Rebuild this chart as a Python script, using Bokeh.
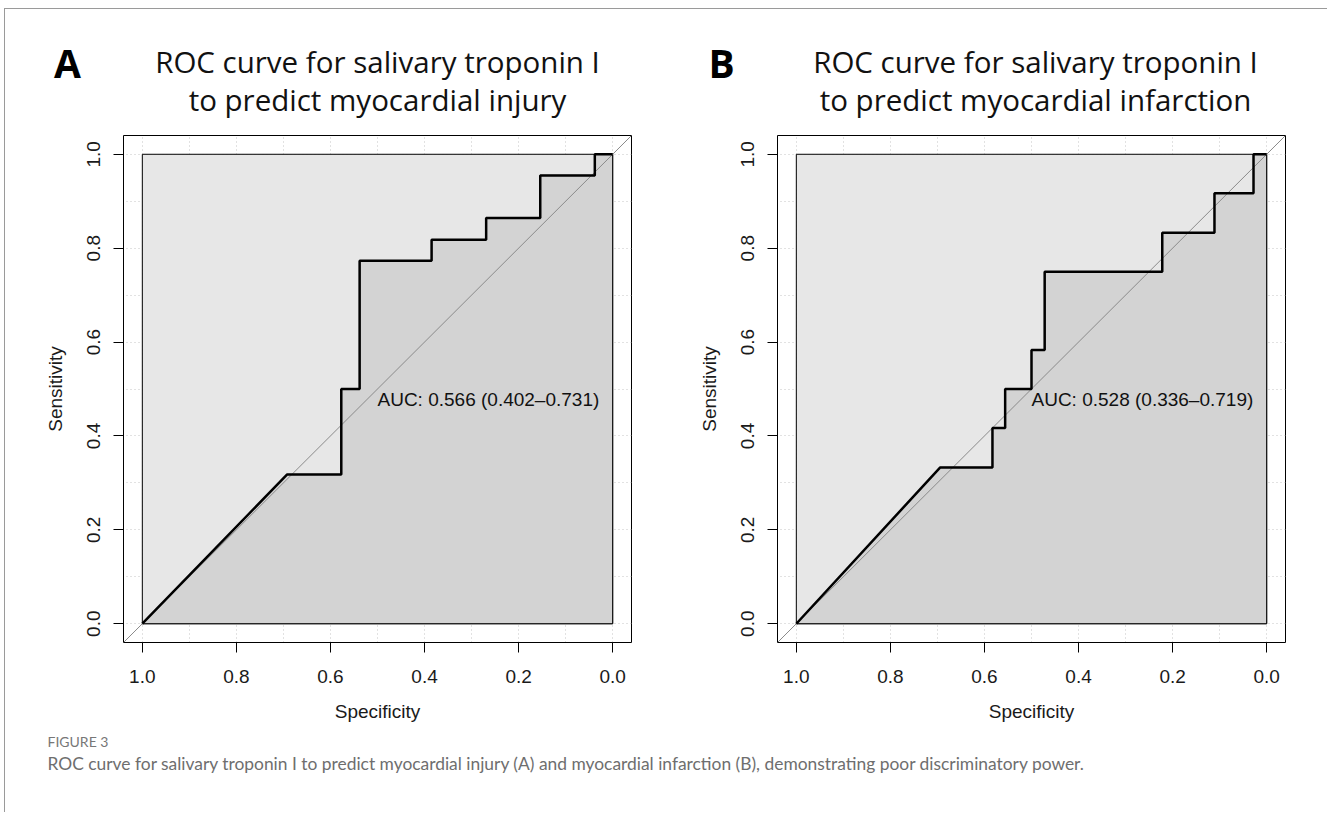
from bokeh.plotting import figure
from bokeh.models import Range1d, FixedTicker, Label, PrintfTickFormatter
from bokeh.layouts import row, column
from bokeh.embed import file_html
from bokeh.resources import INLINE

# ---------------- data ----------------
spec_a = [1.0, 0.692, 0.577, 0.577, 0.538, 0.538, 0.385, 0.385, 0.269, 0.269, 0.154, 0.154, 0.038, 0.038, 0.0]
sens_a = [0.0, 0.318, 0.318, 0.500, 0.500, 0.773, 0.773, 0.818, 0.818, 0.864, 0.864, 0.955, 0.955, 1.0, 1.0]

spec_b = [1.0, 0.694, 0.583, 0.583, 0.556, 0.556, 0.500, 0.500, 0.472, 0.472, 0.222, 0.222, 0.111, 0.111, 0.028, 0.028, 0.0]
sens_b = [0.0, 0.333, 0.333, 0.417, 0.417, 0.500, 0.500, 0.583, 0.583, 0.750, 0.750, 0.833, 0.833, 0.917, 0.917, 1.0, 1.0]

auc_a = "AUC: 0.566 (0.402\u20130.731)"
auc_b = "AUC: 0.528 (0.336\u20130.719)"

title_a = ["ROC curve for salivary troponin I", "to predict myocardial injury"]
title_b = ["ROC curve for salivary troponin I", "to predict myocardial infarction"]
letters = ["A", "B"]

axis_ticks = [0.0, 0.2, 0.4, 0.6, 0.8, 1.0]
grid_ticks = [0.0, 0.1, 0.2, 0.3, 0.4, 0.5, 0.6, 0.7, 0.8, 0.9, 1.0]

caption_head = "FIGURE 3"
caption_text = ("ROC curve for salivary troponin I to predict myocardial injury (A) and "
                "myocardial infarction (B), demonstrating poor discriminatory power.")

AXFONT = "Liberation Sans"
TFONT = "Open Sans"
FULL_W = 1308
HEAD_W = 1322
HEAD_H = 116


def panel(spec, sens, auc_text):
    p = figure(width=654, height=602,
               x_range=Range1d(1.04, -0.04), y_range=Range1d(-0.04, 1.04),
               output_backend="svg", toolbar_location=None,
               min_border_left=118, min_border_right=28,
               min_border_top=10, min_border_bottom=85)
    p.outline_line_color = "black"
    p.outline_line_width = 1
    p.background_fill_color = "white"
    p.border_fill_color = "white"

    for g in (p.xgrid, p.ygrid):
        g.ticker = FixedTicker(ticks=grid_ticks)
        g.grid_line_color = "#c4c4c4"
        g.grid_line_dash = "1 3"
        g.grid_line_width = 1

    for ax in (p.xaxis, p.yaxis):
        ax.ticker = FixedTicker(ticks=axis_ticks)
        ax.formatter = PrintfTickFormatter(format="%.1f")
        ax.bounds = (0, 1)
        ax.major_tick_out = 10
        ax.major_tick_in = 0
        ax.minor_tick_out = 0
        ax.minor_tick_in = 0
        ax.axis_line_color = "black"
        ax.major_tick_line_color = "black"
        ax.major_label_text_font = AXFONT
        ax.major_label_text_font_size = "19px"
        ax.major_label_text_color = "#1a1a1a"
        ax.axis_label_text_font = AXFONT
        ax.axis_label_text_font_size = "19px"
        ax.axis_label_text_font_style = "normal"
        ax.axis_label_text_color = "#1a1a1a"
    p.xaxis.axis_label = "Specificity"
    p.yaxis.axis_label = "Sensitivity"
    p.yaxis.major_label_orientation = "vertical"
    p.xaxis.major_label_standoff = 17
    p.yaxis.major_label_standoff = 13
    p.xaxis.axis_label_standoff = 15
    p.yaxis.axis_label_standoff = 19

    # max AUC area
    p.quad(left=[max(spec)], right=[min(spec)], bottom=[min(sens)], top=[max(sens)],
           fill_color="#e7e7e7", line_color="black", line_width=1)
    # AUC area under the curve
    p.patch(spec + [min(spec)], sens + [min(sens)],
            fill_color="#d3d3d3", line_color="black", line_width=1)
    # identity line
    p.line([p.x_range.start, p.x_range.end], [p.y_range.start, p.y_range.end],
           line_color="#8a8a8a", line_width=1)
    # ROC curve
    p.line(spec, sens, line_color="black", line_width=2.5)

    p.add_layout(Label(x=0.5, y=0.5, text=auc_text, text_align="left", text_baseline="top",
                       text_font=AXFONT, text_font_size="19px", text_color="#111111"))
    return p


pa = panel(spec_a, sens_a, auc_a)
pb = panel(spec_b, sens_b, auc_b)

# header with panel letters and titles (pixel coordinates, no title bar, no axes)
head = figure(width=HEAD_W, height=HEAD_H, x_range=Range1d(0, HEAD_W), y_range=Range1d(HEAD_H, 0),
              output_backend="svg", toolbar_location=None, min_border=0, title=None,
              x_axis_location=None, y_axis_location=None)
head.grid.visible = False
head.outline_line_color = None
for cx, lx, lines, letter in [(372, 48.5, title_a, letters[0]), (1030, 703, title_b, letters[1])]:
    head.add_layout(Label(x=cx, y=52, text=lines[0], text_align="center", text_baseline="alphabetic",
                          text_font=TFONT, text_font_size="29.5px", text_color="#111111"))
    head.add_layout(Label(x=cx, y=90, text=lines[1], text_align="center", text_baseline="alphabetic",
                          text_font=TFONT, text_font_size="29.5px", text_color="#111111"))
    head.add_layout(Label(x=lx, y=53, text=letter, text_align="left", text_baseline="alphabetic",
                          text_font="Open Sans", text_font_style="bold", text_font_size="39px",
                          text_color="#000000"))

cap = figure(width=FULL_W, height=85, x_range=Range1d(0, FULL_W), y_range=Range1d(85, 0),
             output_backend="svg", toolbar_location=None, min_border=0)
cap.axis.visible = False
cap.grid.visible = False
cap.outline_line_color = None
cap.add_layout(Label(x=42, y=13.5, text=caption_head, text_align="left", text_baseline="alphabetic",
                     text_font="Lato", text_font_size="14px", text_color="#777777"))
cap.add_layout(Label(x=42, y=36, text=caption_text, text_align="left", text_baseline="alphabetic",
                     text_font="Lato", text_font_size="17.4px", text_color="#6e6e6e"))

layout = column(head, row(pa, pb), cap)
layout.styles = {"border-top": "1px solid #9a9a9a", "border-left": "1px solid #9a9a9a",
                 "margin-top": "8px", "margin-left": "4px"}

open("out.html", "w").write(file_html(layout, INLINE))
